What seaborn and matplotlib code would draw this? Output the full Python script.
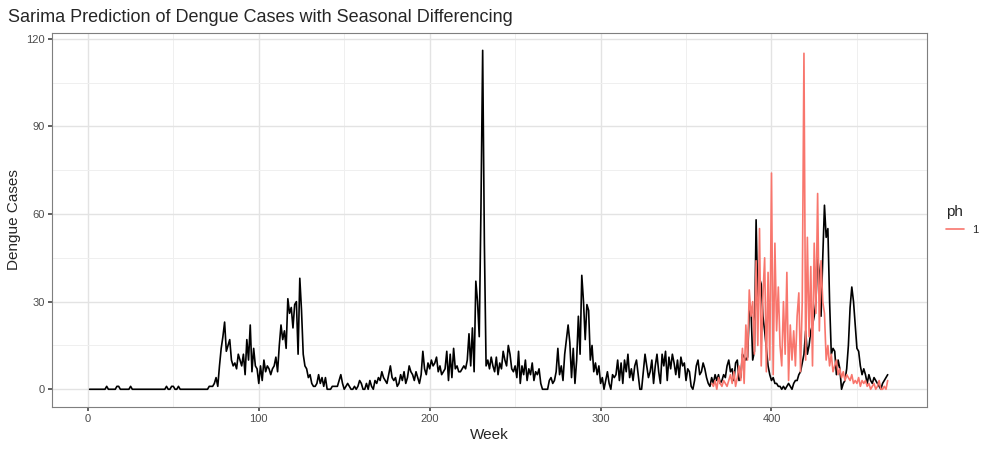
import numpy as np
import pandas as pd
import matplotlib
matplotlib.use("Agg")
import matplotlib.pyplot as plt
import seaborn as sns

# observed weekly dengue cases (week 1..)
cases = (
    [0]*10 + [1, 0, 0, 0, 0, 0, 1, 1, 0, 0] + [0, 0, 0, 0, 1, 0, 0, 0, 0, 0] + [0]*10
    + [0, 0, 0, 0, 0, 1, 0, 0, 1, 1] + [0, 0, 1, 0, 0, 0, 0, 0, 0, 0] + [0]*10
    + [1, 1, 1, 2, 4, 1, 8, 14, 18, 23] + [13, 15, 17, 10, 8, 9, 7, 12, 10, 8]
    + [12, 5, 17, 10, 22, 6, 14, 8, 7, 2] + [8, 3, 10, 6, 8, 7, 5, 7, 8, 11]
    + [6, 15, 22, 17, 20, 14, 31, 26, 28, 21] + [29, 30, 12, 38, 27, 12, 8, 7, 4, 5]
    + [2, 1, 1, 2, 5, 2, 4, 1, 4, 0] + [0, 0, 1, 1, 1, 1, 3, 5, 2, 0]
    + [1, 2, 1, 0, 0, 1, 0, 1, 3, 2] + [0, 0, 2, 0, 3, 1, 0, 3, 2, 4]
    + [3, 6, 4, 3, 2, 5, 8, 4, 3, 4] + [1, 2, 5, 3, 6, 2, 4, 8, 6, 5]
    + [3, 6, 4, 2, 5, 13, 7, 5, 9, 7] + [10, 8, 9, 11, 6, 8, 5, 6, 7, 13]
    + [3, 12, 4, 14, 7, 8, 6, 6, 7, 8] + [7, 10, 19, 8, 21, 6, 37, 30, 18, 62]
    + [116, 50, 8, 10, 7, 11, 8, 6, 11, 5] + [9, 7, 13, 10, 8, 15, 12, 7, 6, 8]
    + [4, 13, 2, 8, 5, 10, 3, 7, 5, 9] + [3, 6, 5, 7, 2, 0, 0, 0, 0, 3]
    + [4, 2, 3, 6, 14, 5, 8, 3, 12, 17] + [22, 16, 4, 14, 2, 10, 25, 12, 39, 30]
    + [17, 29, 27, 10, 15, 6, 9, 5, 8, 2] + [4, 0, 3, 6, 2, 0, 5, 4, 5, 10]
    + [3, 9, 2, 10, 6, 12, 4, 7, 3, 8] + [10, 5, 0, 0, 6, 12, 8, 4, 6, 10]
    + [2, 8, 12, 6, 2, 12, 8, 13, 3, 11] + [7, 12, 9, 5, 10, 4, 11, 8, 9, 3]
    + [7, 6, 1, 0, 3, 8, 10, 5, 6, 9] + [7, 4, 2, 1, 4, 2, 5, 3, 5, 2]
    + [3, 5, 4, 8, 10, 6, 7, 3, 9, 10] + [3, 4, 12, 11, 10, 11, 26, 28, 10, 13]
    + [58, 30, 38, 36, 25, 20, 14, 8, 5, 3] + [4, 2, 2, 1, 1, 0, 1, 0, 1, 2]
    + [1, 0, 2, 3, 3, 5, 6, 9, 12, 20] + [12, 15, 20, 22, 25, 30, 45, 40, 25, 45]
    + [63, 52, 55, 30, 12, 14, 13, 5, 10, 7] + [0, 2, 3, 7, 15, 28, 35, 30, 22, 14]
    + [13, 8, 5, 7, 5, 2, 5, 3, 2, 4] + [3, 2, 1, 0, 2, 3, 4, 5]
)
weeks = np.arange(1, len(cases) + 1)

# one-step-ahead sarima predictions
pred_start = 365
pred = (
    [2, 1, 3, 0, 4, 2, 1, 3, 2, 1] + [3, 5, 2, 6, 1, 4, 8, 3, 14, 2]
    + [22, 10, 34, 25, 30, 12, 44, 15, 55, 8] + [32, 45, 6, 40, 10, 74, 5, 50, 20, 35]
    + [15, 8, 30, 12, 40, 3, 22, 10, 20, 8] + [25, 33, 6, 30, 115, 10, 52, 18, 42, 8]
    + [50, 26, 67, 20, 44, 30, 26, 10, 15, 8] + [12, 6, 8, 10, 5, 7, 4, 6, 3, 5]
    + [4, 3, 5, 2, 3, 2, 4, 1, 3, 2] + [3, 1, 2, 0, 1, 2, 0, 1, 3, 0, 0, 1, 0, 3]
)
pred_weeks = np.arange(pred_start, pred_start + len(pred))

obs = pd.DataFrame({"Week": weeks, "Cases": cases})
fc = pd.DataFrame({"Week": pred_weeks, "Cases": pred, "ph": "1"})

sns.set_theme(style="whitegrid")
plt.rcParams['font.family'] = ['Liberation Sans', 'DejaVu Sans']
fig = plt.figure(figsize=(10, 4.5), dpi=100)
ax = fig.add_axes([0.052, 0.096, 0.875, 0.831])

sns.lineplot(data=obs, x="Week", y="Cases", color="black", lw=1.2, ax=ax)
sns.lineplot(data=fc, x="Week", y="Cases", hue="ph", palette=["#F8766D"], lw=1.2, ax=ax)

ax.set_xlim(-21, 491)
ax.set_ylim(-6, 122)
ax.set_xticks([0, 100, 200, 300, 400])
ax.set_yticks([0, 30, 60, 90, 120])
ax.set_xticks([50, 150, 250, 350, 450], minor=True)
ax.set_yticks([15, 45, 75, 105], minor=True)
ax.grid(which="major", color="#e3e3e3", lw=1)
ax.grid(which="minor", color="#efefef", lw=0.7)
for s in ax.spines.values():
    s.set_color("#7f7f7f")
    s.set_linewidth(0.8)
ax.tick_params(labelsize=8, colors="#4d4d4d", length=3, pad=2, which="major", left=True, bottom=True)
ax.tick_params(which="minor", length=0)
ax.set_xlabel("Week", fontsize=11, labelpad=3)
ax.set_ylabel("Dengue Cases", fontsize=11, labelpad=4)
ax.set_title("Sarima Prediction of Dengue Cases with Seasonal Differencing",
             fontsize=13, loc="left", x=-0.05, pad=8)

leg = ax.legend(title="ph", loc="center left", bbox_to_anchor=(1.01, 0.5), frameon=False,
                fontsize=8, title_fontsize=11, handlelength=1.6)
leg._legend_box.align = "left"

fig.savefig("out.png", dpi=100)
